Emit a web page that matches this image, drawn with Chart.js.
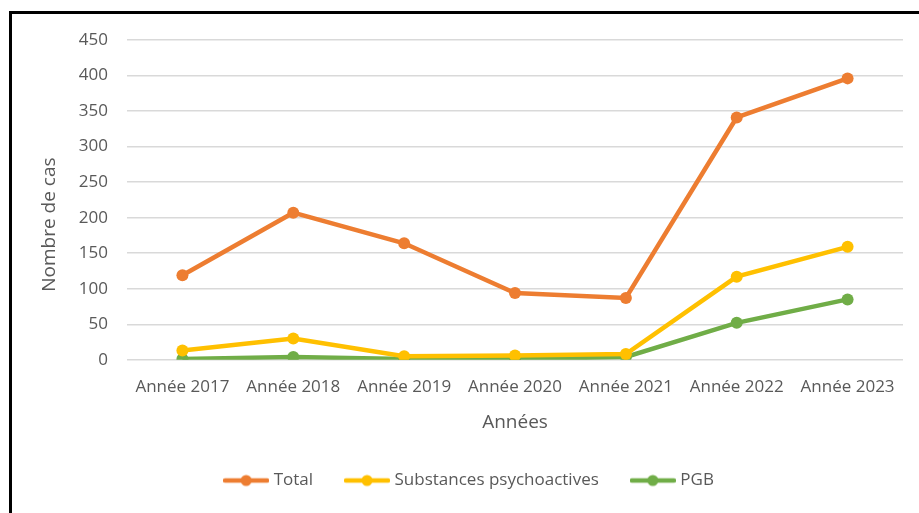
<!DOCTYPE html>
<html lang="fr">
<head>
    <meta charset="UTF-8">
    <title>Nombre de cas par année</title>
    <script src="https://cdn.jsdelivr.net/npm/chart.js@4"></script>
    <style>
        html, body {
            margin: 0;
            padding: 0;
            background-color: #fff;
            overflow: hidden;
        }
        .frame {
            position: absolute;
            left: 9px;
            top: 11px;
            width: 940px;
            height: 540px;
            border-left: 3px solid #000;
            border-top: 3px solid #000;
        }
        .chart-container {
            position: absolute;
            left: 0;
            top: 0;
            width: 919px;
            height: 513px;
        }
    </style>
</head>
<body>
    <div class="frame"></div>
    <div class="chart-container">
        <canvas id="chart"></canvas>
    </div>

    <script>
        const categories = ['Année 2017', 'Année 2018', 'Année 2019', 'Année 2020', 'Année 2021', 'Année 2022', 'Année 2023'];
        const totalValues = [119, 207, 164, 94, 87, 341, 396];
        const substancesValues = [13, 30, 5, 6, 8, 117, 159];
        const pgbValues = [1, 4, 1, 1, 4, 52, 85];
        const yTicks = [0, 50, 100, 150, 200, 250, 300, 350, 400, 450];

        const textColor = '#595959';
        const fontFamily = '"Open Sans", "Noto Sans", sans-serif';

        // petite icône de légende : trait + rond, comme Excel
        function legendIcon(color) {
            const c = document.createElement('canvas');
            c.width = 46;
            c.height = 14;
            const ctx = c.getContext('2d');
            ctx.strokeStyle = color;
            ctx.lineWidth = 4.5;
            ctx.lineCap = 'round';
            ctx.beginPath();
            ctx.moveTo(2, 7);
            ctx.lineTo(44, 7);
            ctx.stroke();
            ctx.fillStyle = color;
            ctx.beginPath();
            ctx.arc(23, 7, 5.5, 0, Math.PI * 2);
            ctx.fill();
            return c;
        }

        function makeDataset(label, values, color) {
            return {
                label: label,
                data: values,
                borderColor: color,
                backgroundColor: color,
                borderWidth: 4.5,
                pointRadius: 6,
                pointHoverRadius: 6,
                pointBorderWidth: 0,
                pointBackgroundColor: color,
                pointStyle: 'circle',
                icon: legendIcon(color),
                tension: 0
            };
        }

        const datasets = [
            makeDataset('Total', totalValues, '#ED7D31'),
            makeDataset('Substances psychoactives', substancesValues, '#FFC000'),
            makeDataset('PGB', pgbValues, '#70AD47')
        ];

        new Chart(document.getElementById('chart').getContext('2d'), {
            type: 'line',
            data: {
                labels: categories,
                datasets: datasets
            },
            options: {
                responsive: true,
                maintainAspectRatio: false,
                animation: false,
                layout: {
                    padding: { left: 38, right: 16, top: 40, bottom: 14 }
                },
                plugins: {
                    tooltip: { enabled: false },
                    legend: {
                        position: 'bottom',
                        labels: {
                            usePointStyle: true,
                            pointStyleWidth: 38,
                            padding: 35,
                            color: textColor,
                            font: { family: fontFamily, size: 17 },
                            generateLabels: (chart) => chart.data.datasets.map((ds, i) => ({
                                text: ds.label,
                                pointStyle: ds.icon,
                                fillStyle: ds.borderColor,
                                strokeStyle: ds.borderColor,
                                lineWidth: 0,
                                fontColor: textColor,
                                hidden: false,
                                datasetIndex: i
                            }))
                        }
                    }
                },
                scales: {
                    x: {
                        offset: true,
                        grid: { display: false },
                        border: { display: false },
                        ticks: {
                            color: textColor,
                            padding: 9,
                            maxRotation: 0,
                            font: { family: fontFamily, size: 17 }
                        },
                        title: {
                            display: true,
                            text: 'Années',
                            color: textColor,
                            padding: { top: 5, bottom: 3 },
                            font: { family: fontFamily, size: 19 }
                        }
                    },
                    y: {
                        min: 0,
                        max: 450,
                        afterBuildTicks: (scale) => {
                            scale.ticks = yTicks.map(v => ({ value: v }));
                        },
                        afterFit: (scale) => {
                            scale.width = 89;
                        },
                        grid: {
                            color: '#D9D9D9',
                            lineWidth: 1.5,
                            drawTicks: false
                        },
                        border: { display: false },
                        ticks: {
                            color: textColor,
                            padding: 19,
                            font: { family: fontFamily, size: 17 }
                        },
                        title: {
                            display: true,
                            // espaces insécables en fin : décale le titre vers le bas comme dans Excel
                            text: 'Nombre de cas\u00a0\u00a0\u00a0\u00a0\u00a0\u00a0\u00a0\u00a0\u00a0\u00a0',
                            color: textColor,
                            padding: { top: 0, bottom: 0 },
                            font: { family: fontFamily, size: 19 }
                        }
                    }
                }
            }
        });
    </script>
</body>
</html>
